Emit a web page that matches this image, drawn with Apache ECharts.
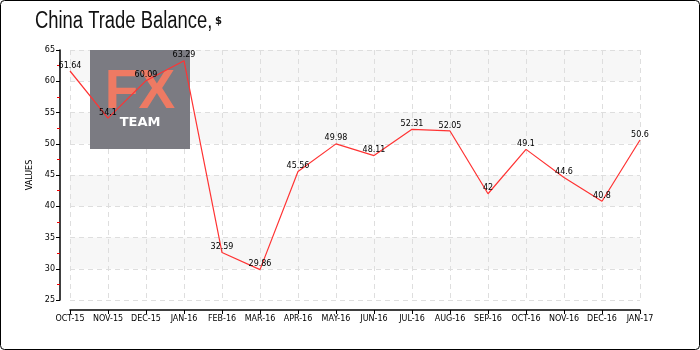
<!DOCTYPE html>
<html><head><meta charset="utf-8">
<script src="https://cdn.jsdelivr.net/npm/echarts@6/dist/echarts.min.js"></script>
<style>html,body{margin:0;padding:0;background:#fff}#c{width:700px;height:350px}</style>
</head><body><div id="c"></div>
<script>
const categories = ['OCT-15','NOV-15','DEC-15','JAN-16','FEB-16','MAR-16','APR-16','MAY-16','JUN-16','JUL-16','AUG-16','SEP-16','OCT-16','NOV-16','DEC-16','JAN-17'];
const values = [61.64, 54.1, 60.09, 63.29, 32.59, 29.86, 45.56, 49.98, 48.11, 52.31, 52.05, 42, 49.1, 44.6, 40.8, 50.6];
const yMin = 25, yMax = 65, yStep = 5;
const titleText = 'China Trade Balance,';
const axisName = 'VALUES';

const chart = echarts.init(document.getElementById('c'), null, {renderer: 'canvas'});
const smallFont = 'DejaVu Sans';
chart.setOption({
  animation: false,
  backgroundColor: '#fff',
  graphic: [
    {type: 'rect', silent: true, z: 100, shape: {x: 0.5, y: 0.5, width: 699, height: 349, r: 4}, style: {fill: 'none', stroke: '#000', lineWidth: 1}},
    {type: 'text', z: 100, x: 35, y: 33, scaleX: 0.8, style: {text: titleText, font: '23px Liberation Sans Narrow, sans-serif', fill: '#111', textVerticalAlign: 'bottom'}},
    {type: 'text', z: 100, x: 215, y: 16, style: {text: '$', font: 'bold 10px DejaVu Sans, sans-serif', fill: '#111'}},
    {type: 'rect', z: 1, shape: {x: 90, y: 50, width: 100, height: 99}, style: {fill: '#7b7b82'}},
    {type: 'text', z: 1, x: 140, y: 93, style: {text: 'FX', font: 'bold 55px Liberation Sans, sans-serif', fill: '#ee7a63', textAlign: 'center', textVerticalAlign: 'middle'}},
    {type: 'text', z: 1, x: 140, y: 123, style: {text: 'TEAM', font: 'bold 13px DejaVu Sans, sans-serif', fill: '#fff', textAlign: 'center', textVerticalAlign: 'middle'}}
  ],
  grid: {left: 70, right: 60, top: 50, bottom: 50},
  xAxis: {
    type: 'category', data: categories, boundaryGap: false, offset: 10,
    axisLine: {lineStyle: {color: '#000', width: 1.5}},
    axisTick: {show: true, length: 4, lineStyle: {color: '#000'}, alignWithLabel: true},
    axisLabel: {fontFamily: smallFont, fontSize: 8, color: '#000', margin: 5, interval: 0},
    splitLine: {show: true, lineStyle: {color: '#dedede', type: [5, 4]}}
  },
  yAxis: {
    type: 'value', min: yMin, max: yMax, interval: yStep, offset: 10,
    name: axisName, nameLocation: 'middle', nameGap: 16,
    nameTextStyle: {fontFamily: smallFont, fontSize: 8, color: '#000'},
    axisLine: {show: true, lineStyle: {color: '#000', width: 1.5}},
    axisTick: {show: true, length: 4, lineStyle: {color: '#000'}},
    minorTick: {show: true, splitNumber: 2, length: 3, lineStyle: {color: '#e00'}},
    axisLabel: {fontFamily: smallFont, fontSize: 8, color: '#000', margin: 5},
    splitLine: {show: true, lineStyle: {color: '#dedede', type: [5, 4]}},
    splitArea: {show: true, areaStyle: {color: ['rgba(0,0,0,0)', '#f7f7f7']}}
  },
  series: [{
    type: 'line', data: values, z: 5,
    symbol: 'circle', symbolSize: 1,
    itemStyle: {color: 'rgba(0,0,0,0)'},
    lineStyle: {color: '#ff3333', width: 1.2},
    label: {show: true, position: 'top', distance: 1, color: '#000', fontFamily: smallFont, fontSize: 8}
  }]
});
</script></body></html>
